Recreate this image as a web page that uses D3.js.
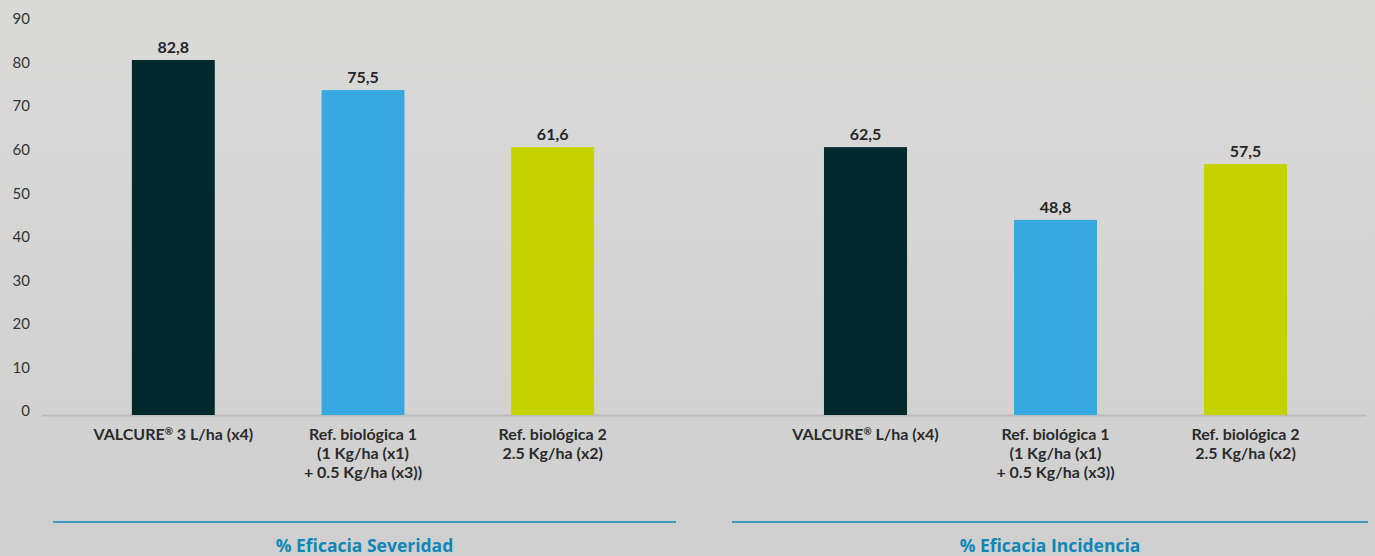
<!DOCTYPE html>
<html>
<head>
<meta charset="utf-8">
<script src="https://cdn.jsdelivr.net/npm/d3@7"></script>
<style>
  body { margin: 0; }
  svg { display: block; }
</style>
</head>
<body>
<div id="chart"></div>
<script>
var svgWidth = 1375;
var svgHeight = 556;

// Data
var categoriesSev = ["VALCURE® 3 L/ha (x4)", "Ref. biológica 1|(1 Kg/ha (x1)|+ 0.5 Kg/ha (x3))", "Ref. biológica 2|2.5 Kg/ha (x2)"];
var categoriesInc = ["VALCURE® L/ha (x4)", "Ref. biológica 1|(1 Kg/ha (x1)|+ 0.5 Kg/ha (x3))", "Ref. biológica 2|2.5 Kg/ha (x2)"];
// bar heights as drawn
var valuesSev = [81.5, 74.6, 61.5];
var valuesInc = [61.5, 44.8, 57.6];
// printed value labels
var labelsSev = ["82,8", "75,5", "61,6"];
var labelsInc = ["62,5", "48,8", "57,5"];
var yTicks = [0, 10, 20, 30, 40, 50, 60, 70, 80, 90];
var groupTitles = ["% Eficacia Severidad", "% Eficacia Incidencia"];
var colors = ["#01292b", "#37a9e0", "#c4d300"];

var svg = d3.select("#chart")
  .append("svg")
  .attr("width", svgWidth)
  .attr("height", svgHeight);

// background gradient
var grad = svg.append("defs").append("linearGradient")
  .attr("id", "bg")
  .attr("x1", 0).attr("y1", 0).attr("x2", 0).attr("y2", 1);
grad.append("stop").attr("offset", "0%").attr("stop-color", "#dadad9");
grad.append("stop").attr("offset", "100%").attr("stop-color", "#cfcfcf");
svg.append("rect")
  .attr("width", svgWidth)
  .attr("height", svgHeight)
  .attr("fill", "url(#bg)");

var yScale = d3.scaleLinear()
  .domain([0, 90])
  .range([415, 23]);

// y tick labels (no axis line)
var yAxis = svg.append("g")
  .attr("transform", "translate(30, -4)")
  .call(d3.axisLeft(yScale).tickValues(yTicks).tickSize(0).tickPadding(0));
yAxis.select(".domain").remove();
yAxis.selectAll("text")
  .attr("fill", "#333")
  .style("font-family", "Lato, 'Noto Sans', sans-serif")
  .style("font-size", "15px");

// baseline
svg.append("line")
  .attr("x1", 42).attr("x2", 1366)
  .attr("y1", 415.5).attr("y2", 415.5)
  .attr("stroke", "#bcbcbc")
  .attr("stroke-width", 2);

var groups = [
  { cats: categoriesSev, vals: valuesSev, labels: labelsSev, range: [78.5, 647.5], line: [53, 676], title: groupTitles[0] },
  { cats: categoriesInc, vals: valuesInc, labels: labelsInc, range: [770.5, 1340.5], line: [732, 1368], title: groupTitles[1] }
];

groups.forEach(function(g) {
  var xScale = d3.scaleBand()
    .domain(g.cats)
    .range(g.range)
    .paddingInner(0.563)
    .paddingOuter(0.2815);

  var chartGroup = svg.append("g");

  chartGroup.selectAll("rect.bar")
    .data(g.vals)
    .enter()
    .append("rect")
    .attr("class", "bar")
    .attr("x", (d, i) => xScale(g.cats[i]))
    .attr("y", d => yScale(d))
    .attr("width", xScale.bandwidth())
    .attr("height", d => yScale(0) - yScale(d))
    .attr("fill", (d, i) => colors[i]);

  // value labels
  chartGroup.selectAll("text.val")
    .data(g.vals)
    .enter()
    .append("text")
    .attr("class", "val")
    .attr("x", (d, i) => xScale(g.cats[i]) + xScale.bandwidth() / 2)
    .attr("y", d => yScale(d) - 7)
    .attr("text-anchor", "middle")
    .attr("fill", "#262626")
    .style("font-family", "Lato, 'Noto Sans', sans-serif")
    .style("font-weight", "bold")
    .style("font-size", "16px")
    .text((d, i) => g.labels[i]);

  // category labels (multi-line, ® as superscript)
  var catText = chartGroup.selectAll("text.cat")
    .data(g.cats)
    .enter()
    .append("text")
    .attr("class", "cat")
    .attr("text-anchor", "middle")
    .attr("fill", "#2b2b2b")
    .style("font-family", "Lato, 'Noto Sans', sans-serif")
    .style("font-weight", "bold")
    .style("font-size", "16px");

  catText.each(function(d) {
    var t = d3.select(this);
    var cx = xScale(d) + xScale.bandwidth() / 2;
    d.split("|").forEach(function(line, k) {
      var parts = line.split("®");
      t.append("tspan")
        .attr("x", cx)
        .attr("y", 440 + k * 19)
        .text(parts[0]);
      if (parts.length > 1) {
        t.append("tspan")
          .attr("dy", -5)
          .style("font-size", "10px")
          .text("®");
        t.append("tspan")
          .attr("dy", 5)
          .text(parts[1]);
      }
    });
  });

  // group underline and title
  chartGroup.append("line")
    .attr("x1", g.line[0]).attr("x2", g.line[1])
    .attr("y1", 522).attr("y2", 522)
    .attr("stroke", "#0c87b8")
    .attr("stroke-width", 1.5);

  chartGroup.append("text")
    .attr("x", (g.line[0] + g.line[1]) / 2)
    .attr("y", 552)
    .attr("text-anchor", "middle")
    .attr("fill", "#0c87b8")
    .style("font-family", "'Open Sans', 'Noto Sans', sans-serif")
    .style("font-weight", "bold")
    .style("font-size", "17.5px")
    .text(g.title);
});
</script>
</body>
</html>
